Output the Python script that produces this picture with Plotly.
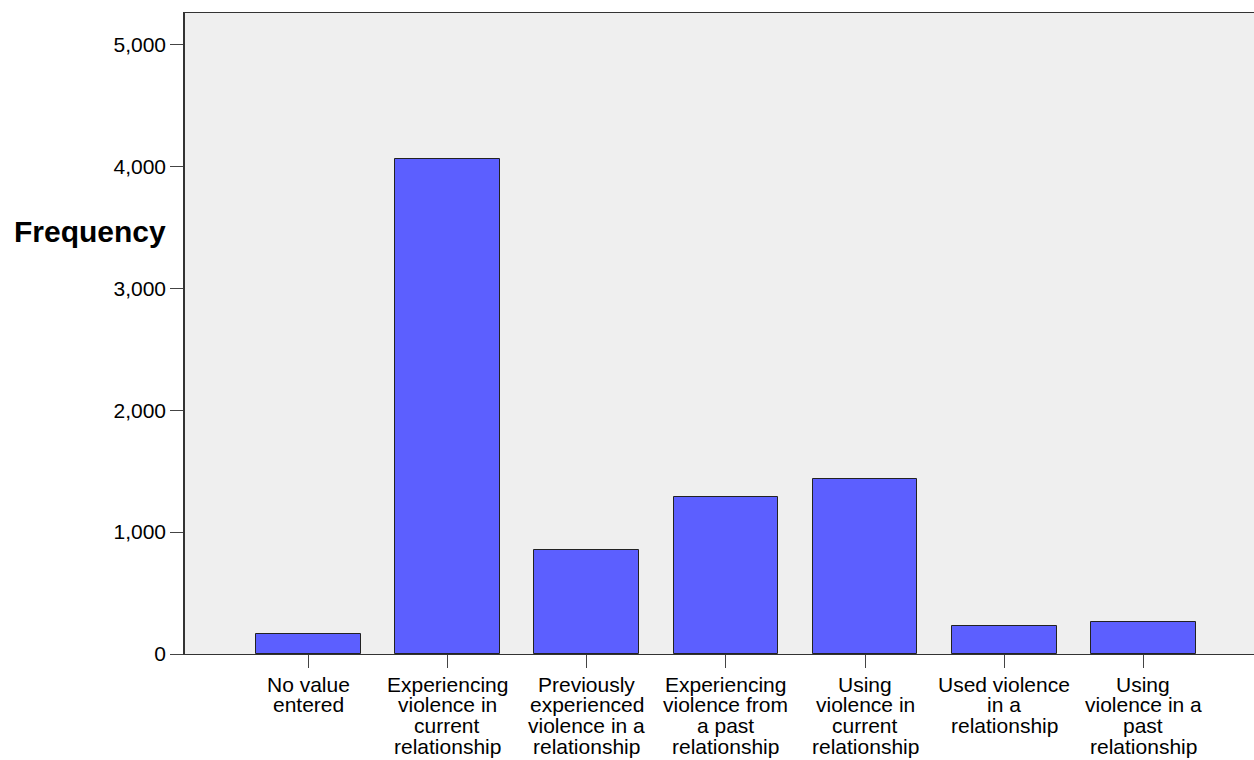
import plotly.graph_objects as go

categories = [
    "No value entered",
    "Experiencing violence in current relationship",
    "Previously experienced violence in a relationship",
    "Experiencing violence from a past relationship",
    "Using violence in current relationship",
    "Used violence in a relationship",
    "Using violence in a past relationship",
]
tick_labels = [
    "No value<br>entered",
    "Experiencing<br>violence in<br>current<br>relationship",
    "Previously<br>experienced<br>violence in a<br>relationship",
    "Experiencing<br>violence from<br>a past<br>relationship",
    "Using<br>violence in<br>current<br>relationship",
    "Used violence<br>in a<br>relationship",
    "Using<br>violence in a<br>past<br>relationship",
]
frequency = [162, 4058, 851, 1287, 1437, 232, 260]
y_ticks = [0, 1000, 2000, 3000, 4000, 5000]

font = "Liberation Sans, Arial, sans-serif"

fig = go.Figure()
fig.add_trace(go.Bar(
    x=categories, y=frequency, width=0.752,
    marker=dict(color="#5c5fff", line=dict(color="#222222", width=1)),
))

# tick labels drawn line by line to get the tight line spacing of the original
annotations = []
for cat, lab in zip(categories, tick_labels):
    for j, line in enumerate(lab.split("<br>")):
        annotations.append(dict(
            x=cat, xref="x", y=0, yref="y", text=line, showarrow=False,
            xanchor="center", yanchor="middle", yshift=-30 - j * 20.7,
            font=dict(family=font, size=21, color="black"),
        ))
annotations.append(dict(
    x=0, xref="paper", y=0.659, yref="paper", text="<b>Frequency</b>",
    showarrow=False, xanchor="right", yanchor="middle", xshift=-17,
    font=dict(family=font, size=30, color="black"),
))

fig.update_layout(
    width=1254, height=760,
    margin=dict(l=185, r=0, t=13, b=106),
    paper_bgcolor="white", plot_bgcolor="#efefef",
    showlegend=False, bargap=0,
    annotations=annotations,
    font=dict(family=font, size=21, color="black"),
)
fig.update_xaxes(
    type="category", range=[-0.886, 6.795],
    showticklabels=False, ticks="outside", ticklen=13, tickcolor="#444",
    showline=True, mirror=True, linecolor="#333", linewidth=1,
    showgrid=False, zeroline=False,
)
fig.update_yaxes(
    range=[0, 5260], tickvals=y_ticks, tickformat=",",
    ticks="outside", ticklen=13, tickcolor="#444",
    tickfont=dict(family=font, size=21, color="black"),
    showline=True, linecolor="#333", linewidth=1.5,
    showgrid=False, zeroline=False,
)

# drop the default page margin so the figure fills the window exactly
fig.write_html(
    "out.html",
    config={"displayModeBar": False},
    post_script="document.body.style.margin='0';document.body.style.overflow='hidden';",
)
